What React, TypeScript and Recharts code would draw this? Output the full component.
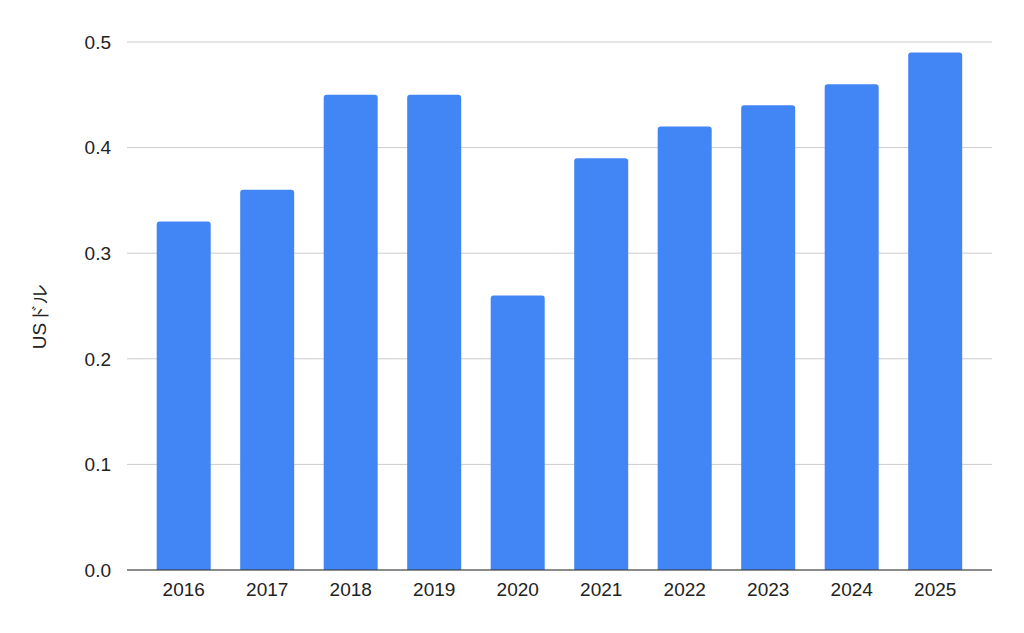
import React from 'react';
import { BarChart, Bar, XAxis, YAxis, CartesianGrid } from 'recharts';

const years = ['2016', '2017', '2018', '2019', '2020', '2021', '2022', '2023', '2024', '2025'];
const values = [0.33, 0.36, 0.45, 0.45, 0.26, 0.39, 0.42, 0.44, 0.46, 0.49];
const yTicks = [0, 0.1, 0.2, 0.3, 0.4, 0.5];

const data = years.map((year, i) => ({ year, value: values[i] }));

const font = { fontFamily: 'Arial, "Liberation Sans", sans-serif', fontSize: 19, fill: '#222' };

const YLabel = (props: any) => {
  const vb = props.viewBox || { x: 0, y: 0, width: 0, height: 0 };
  const x = vb.x + 46;
  const y = vb.y + vb.height / 2 + 11;
  return (
    <text x={x} y={y} transform={`rotate(-90, ${x}, ${y})`} textAnchor="middle" style={font}>
      USドル
    </text>
  );
};

const App: React.FC = () => {
  return (
    <div style={{ position: 'absolute', left: 0, top: 0, background: '#fff' }}>
      <BarChart
        width={1024}
        height={633}
        data={data}
        margin={{ top: 42, right: 32, left: 0, bottom: 23 }}
        barCategoryGap="17.6%"
      >
        <CartesianGrid vertical={false} stroke="#cccccc" />
        <XAxis
          dataKey="year"
          height={40}
          tickLine={false}
          axisLine={{ stroke: '#333333' }}
          tick={font}
          tickMargin={7}
          padding={{ left: 15, right: 15 }}
        />
        <YAxis
          width={127}
          domain={[0, 0.5]}
          ticks={yTicks}
          tickFormatter={(v: number) => v.toFixed(1)}
          axisLine={false}
          tickLine={false}
          tick={font}
          tickMargin={10}
          label={<YLabel />}
        />
        <Bar dataKey="value" fill="#4285F4" radius={[3, 3, 0, 0]} isAnimationActive={false} />
      </BarChart>
    </div>
  );
};

export default App;
